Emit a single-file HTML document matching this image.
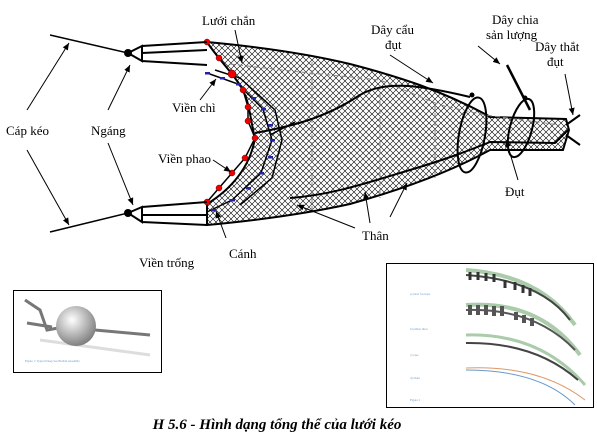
<!DOCTYPE html>
<html><head><meta charset="utf-8"><style>
html,body{margin:0;padding:0;background:#fff;width:597px;height:435px;overflow:hidden}
svg{display:block}
text{font-family:"Liberation Serif",serif;font-size:13px;fill:#000}
text.tiny{font-size:3px;fill:#69c}
</style></head><body>
<svg width="597" height="435" viewBox="0 0 597 435">
<defs>
<pattern id="hatch" width="6" height="6" patternUnits="userSpaceOnUse">
<path d="M0,0L6,6M6,0L0,6" stroke="#000" stroke-width="0.6"/>
</pattern>
<marker id="ar" markerWidth="8" markerHeight="8" refX="7" refY="4" orient="auto" markerUnits="userSpaceOnUse">
<path d="M0,1L7,4L0,7z" fill="#000"/>
</marker>
<radialGradient id="ball" cx="0.4" cy="0.35" r="0.7"><stop offset="0" stop-color="#fff"/><stop offset="1" stop-color="#777"/></radialGradient>
</defs>

<path d="M207,42 C250,46 300,52 350,64 C400,77 440,90 487,115 L490,117 L566,119 L569,130 L563,150 L490,150 C450,172 400,190 350,204 C300,215 250,221 207,225 L207,204 C230,190 250,168 255,138 C250,120 250,100 240,85 C230,70 215,55 207,42 Z" fill="url(#hatch)" stroke="#000" stroke-width="2"/>
<g stroke="#888" stroke-dasharray="5,3" fill="none">
<path d="M230,64 L300,72 L380,80 L440,105 L485,115 L560,125"/>
<path d="M312,62 L312,210"/><path d="M380,85 L380,198"/><path d="M435,105 L435,178"/>
</g>
<path d="M255,133 C300,125 330,115 360,95 C385,80 420,85 470,97" fill="none" stroke="#000" stroke-width="2"/>
<path d="M290,198 C330,195 360,185 410,170 C450,158 470,150 490,142 L555,143 L568,130" fill="none" stroke="#000" stroke-width="2"/>
<path d="M270,135 L295,122" stroke="#000" stroke-width="1.5"/>
<ellipse cx="472" cy="135" rx="13" ry="38" transform="rotate(10 472 135)" fill="none" stroke="#000" stroke-width="2"/>
<ellipse cx="521" cy="128" rx="11" ry="30" transform="rotate(15 521 128)" fill="none" stroke="#000" stroke-width="2"/>
<circle cx="472" cy="95" r="2.5"/><circle cx="525" cy="98" r="2.5"/>
<line x1="507" y1="65" x2="530" y2="110" stroke="#000" stroke-width="2.5"/>
<path d="M566,125L580,115M566,135L580,145" stroke="#000" stroke-width="2"/>

<path d="M207,42 L219,58 L232,74 L243,90 L248,107 L248,121 L255,138 L245,158 L232,173 L219,188 L207,202" fill="none" stroke="#000" stroke-width="1.5"/>
<path d="M207,73 L238,84 L263,109 L272,140 L261,173 L232,200 L207,212" fill="none" stroke="#000" stroke-width="1.5"/>
<path d="M215,70 L240,78 L275,110 L282,140 L272,178 L240,205" fill="none" stroke="#000" stroke-width="1.5"/>
<g fill="#e00" stroke="#600" stroke-width="0.5">
<circle cx="207" cy="42" r="3"/><circle cx="219" cy="58" r="3"/><circle cx="232" cy="74" r="4"/><circle cx="243" cy="90" r="3"/><circle cx="248" cy="107" r="3"/><circle cx="248" cy="121" r="3"/><circle cx="255" cy="138" r="3"/><circle cx="245" cy="158" r="3"/><circle cx="232" cy="173" r="3"/><circle cx="219" cy="188" r="3"/><circle cx="207" cy="202" r="3"/>
</g>
<g fill="#22a">
<rect x="205" y="72" width="5" height="2.5"/><rect x="220" y="77" width="5" height="2.5"/><rect x="236" y="83" width="5" height="2.5"/><rect x="251" y="97" width="5" height="2.5"/><rect x="261" y="108" width="5" height="2.5"/><rect x="268" y="124" width="5" height="2.5"/><rect x="270" y="139" width="5" height="2.5"/><rect x="268" y="156" width="5" height="2.5"/><rect x="259" y="172" width="5" height="2.5"/><rect x="246" y="187" width="5" height="2.5"/><rect x="230" y="199" width="5" height="2.5"/><rect x="211" y="209" width="5" height="2.5"/>
</g>

<g stroke="#000" fill="none" stroke-width="1.5">
<line x1="50" y1="35" x2="128" y2="53"/>
<line x1="50" y1="232" x2="128" y2="213"/>
<path d="M128,53 L142,46 L142,61 Z M142,46 L207,42 M142,61 L207,65 M142,53 L207,50" stroke-width="2"/>
<path d="M128,213 L142,207 L142,222 Z M142,207 L207,202 M142,222 L207,225 M142,215 L207,215" stroke-width="2"/>
</g>
<circle cx="128" cy="53" r="4"/>
<circle cx="128" cy="213" r="4"/>

<g stroke="#000" stroke-width="1" marker-end="url(#ar)">
<line x1="27" y1="110" x2="69" y2="43"/><line x1="27" y1="150" x2="69" y2="225"/>
<line x1="108" y1="110" x2="130" y2="65"/><line x1="108" y1="143" x2="133" y2="205"/>
<line x1="200" y1="100" x2="216" y2="79"/><line x1="213" y1="160" x2="231" y2="172"/>
<line x1="226" y1="238" x2="216" y2="211"/><line x1="235" y1="30" x2="242" y2="63"/>
<line x1="390" y1="55" x2="433" y2="83"/><line x1="478" y1="46" x2="500" y2="64"/>
<line x1="565" y1="74" x2="573" y2="115"/><line x1="518" y1="180" x2="506" y2="140"/>
<line x1="355" y1="228" x2="297" y2="205"/><line x1="370" y1="223" x2="365" y2="192"/><line x1="390" y1="217" x2="407" y2="183"/>
</g>

<text x="202" y="25">Lưới chắn</text>
<text x="172" y="112">Viền chì</text>
<text x="6" y="135">Cáp kéo</text>
<text x="91" y="135">Ngáng</text>
<text x="158" y="163">Viền phao</text>
<text x="229" y="258">Cánh</text>
<text x="139" y="267">Viền trống</text>
<text x="371" y="34">Dây cẩu</text>
<text x="385" y="49">đụt</text>
<text x="492" y="24">Dây chia</text>
<text x="486" y="39">sản lượng</text>
<text x="535" y="51">Dây thắt</text>
<text x="547" y="66">đụt</text>
<text x="505" y="196">Đụt</text>
<text x="362" y="240">Thân</text>

<g>
<rect x="13.5" y="290.5" width="148" height="82" fill="#fff" stroke="#000"/>
<path d="M25,300 L40,310 L47,330 L75,325 M27,323 L52,327 M95,330 L150,335" stroke="#777" stroke-width="3" fill="none"/>
<path d="M40,340 L150,355" stroke="#ddd" stroke-width="3"/>
<circle cx="76" cy="326" r="20" fill="url(#ball)"/>
<text x="25" y="362" class="tiny">Figure 1: Typical Deep Sea Bobbin Assembly</text>
</g>
<g fill="none">
<rect x="386.5" y="263.5" width="207" height="144" fill="#fff" stroke="#000"/>
<path d="M466,270 Q540,275 575,325" stroke="#aca" stroke-width="4"/>
<path d="M466,275 Q540,280 570,320" stroke="#444" stroke-width="2"/>
<g stroke="#333" stroke-width="3"><path d="M470,272v8M478,272v8M486,273v8M494,274v8M505,280v8M515,282v8M523,285v8M530,288v8"/></g>
<path d="M466,305 Q540,300 580,355" stroke="#aca" stroke-width="4"/>
<path d="M466,310 Q535,308 575,350" stroke="#555" stroke-width="2"/>
<g stroke="#555" stroke-width="4"><path d="M470,305v10M478,305v10M486,305v10M494,306v10M502,306v10M516,312v8M524,315v8M532,318v8"/></g>
<path d="M466,335 Q540,333 585,385" stroke="#aca" stroke-width="3"/>
<path d="M466,343 Q535,342 578,380" stroke="#444" stroke-width="2"/>
<path d="M466,368 Q540,365 585,400" stroke="#d96" stroke-width="1"/>
<path d="M466,370 Q540,370 575,405" stroke="#69c" stroke-width="1"/>
<text x="410" y="295" class="tiny">a) trawl footrope</text><text x="410" y="330" class="tiny">b) rubber discs</text><text x="410" y="356" class="tiny">c) rope</text><text x="410" y="379" class="tiny">d) chain</text><text x="410" y="401" class="tiny">Figure 2</text>
</g>

<text x="277" y="429" text-anchor="middle" style="font-size:15px;font-weight:bold;font-style:italic">H 5.6 - Hình dạng tổng thể của lưới kéo</text>
</svg>
</body></html>
